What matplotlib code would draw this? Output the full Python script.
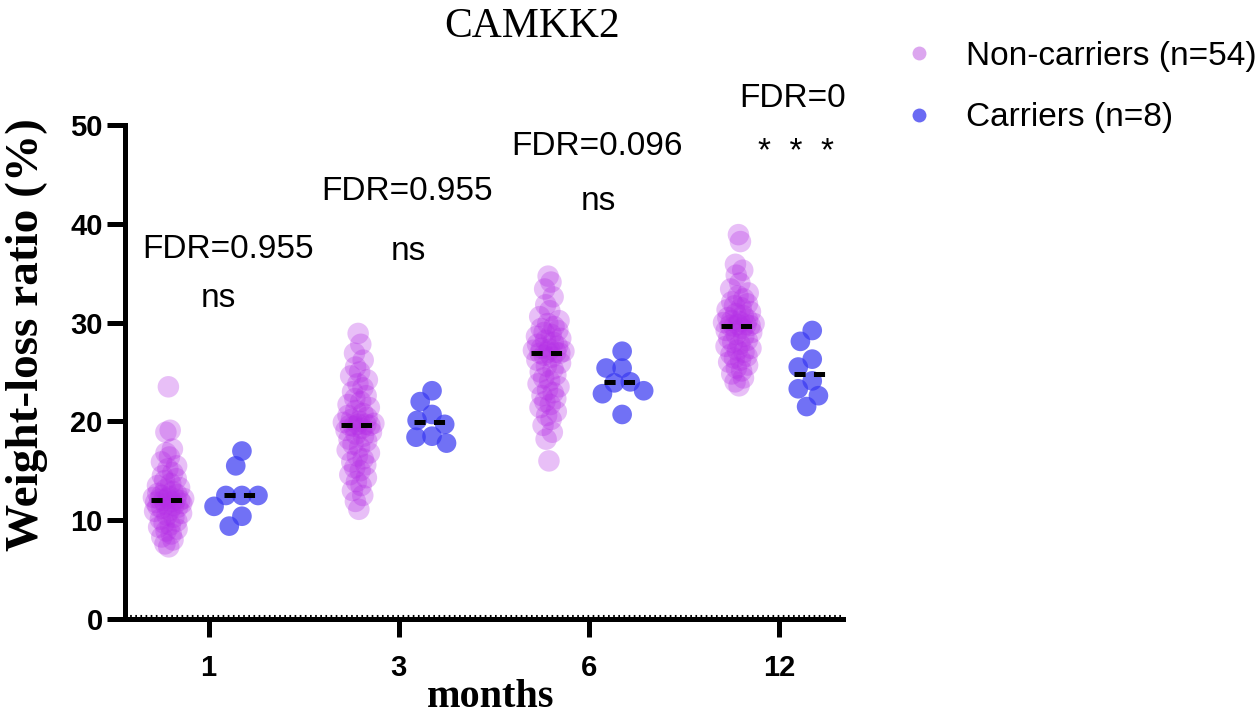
import numpy as np
import matplotlib.pyplot as plt
from matplotlib.lines import Line2D

plt.rcParams['font.family'] = ['Liberation Sans', 'DejaVu Sans']
plt.rcParams['lines.scale_dashes'] = False

months = ["1", "3", "6", "12"]

# weight-loss ratio (%) of non-carriers (n=54) per month
non_carriers_1m = [23.5, 19.1, 18.9, 17.2, 16.8, 16.4, 15.9, 15.5, 15.2, 14.8, 14.5, 14.2, 14.0, 13.7,
                   13.5, 13.3, 13.1, 12.9, 12.7, 12.6, 12.5, 12.4, 12.3, 12.2, 12.2, 12.1, 12.1,
                   12.0, 12.0, 11.9, 11.8, 11.7, 11.6, 11.5, 11.4, 11.3, 11.2, 11.0, 10.9, 10.7,
                   10.5, 10.3, 10.1, 9.9, 9.7, 9.5, 9.3, 9.1, 8.9, 8.6, 8.3, 8.0, 7.6, 7.3]
non_carriers_3m = [28.9, 27.8, 26.9, 26.2, 25.5, 25.0, 24.6, 24.2, 23.8, 23.4, 23.0, 22.6, 22.3, 22.0,
                   21.7, 21.4, 21.1, 20.8, 20.6, 20.4, 20.2, 20.0, 19.9, 19.8, 19.7, 19.7, 19.6,
                   19.6, 19.5, 19.3, 19.1, 18.9, 18.7, 18.5, 18.2, 18.0, 17.7, 17.4, 17.1, 16.8,
                   16.5, 16.2, 15.9, 15.6, 15.3, 15.0, 14.6, 14.3, 13.9, 13.5, 13.0, 12.5, 11.9, 11.1]
non_carriers_6m = [34.7, 34.1, 33.4, 32.6, 31.8, 31.2, 30.6, 30.2, 29.9, 29.6, 29.4, 29.2, 29.0, 28.8,
                   28.6, 28.4, 28.2, 28.0, 27.8, 27.6, 27.4, 27.3, 27.2, 27.1, 27.0, 27.0, 26.9,
                   26.9, 26.7, 26.5, 26.2, 25.9, 25.6, 25.3, 25.0, 24.7, 24.4, 24.1, 23.8, 23.5,
                   23.2, 22.9, 22.6, 22.3, 22.0, 21.7, 21.4, 21.0, 20.6, 20.2, 19.6, 18.9, 18.2, 16.0]
non_carriers_12m = [38.9, 38.2, 35.9, 35.3, 34.8, 34.0, 33.4, 33.0, 32.7, 32.4, 32.1, 31.9, 31.7, 31.5,
                    31.3, 31.1, 30.9, 30.7, 30.5, 30.3, 30.2, 30.1, 30.0, 29.9, 29.8, 29.8, 29.7,
                    29.7, 29.6, 29.4, 29.2, 29.0, 28.8, 28.6, 28.4, 28.2, 28.0, 27.8, 27.6, 27.4,
                    27.2, 27.0, 26.8, 26.6, 26.4, 26.2, 26.0, 25.7, 25.4, 25.1, 24.8, 24.4, 24.0, 23.6]

# carriers (n=8)
carriers_1m = [17.0, 15.5, 12.5, 12.5, 12.5, 11.4, 10.4, 9.4]
carriers_3m = [23.1, 22.0, 20.7, 20.1, 19.7, 18.5, 18.4, 17.8]
carriers_6m = [27.1, 25.4, 25.4, 24.0, 23.9, 23.1, 22.8, 20.7]
carriers_12m = [29.2, 28.1, 26.3, 25.5, 24.1, 23.3, 22.6, 21.5]

fdr_labels = ["FDR=0.955", "FDR=0.955", "FDR=0.096", "FDR=0"]
sig_labels = ["ns", "ns", "ns", "*  *  *"]

# layout
fdr_y = [37.4, 43.3, 47.8, 52.7]
sig_y = [32.4, 37.2, 42.3, 47.2]
fdr_dx = [0.1, 0.045, 0.045, 0.07]
sig_dx = [0.05, 0.05, 0.05, 0.09]
NON_OFF, CAR_OFF = -0.21, 0.175
PX_X, PX_Y = 189.5, 9.84   # pixels per data unit
NON_COLOR = '#b52ee6'
CAR_COLOR = '#3a3af2'


def vdc(k):
    # van der Corput sequence, base 2
    v, denom = 0.0, 1.0
    while k:
        denom *= 2
        k, r = divmod(k, 2)
        v += r / denom
    return v


def quasi_offsets(values, width_px, bw=1.3):
    # spread points sideways by local density (quasirandom style, deterministic)
    vals = np.asarray(values, dtype=float)
    dens = np.array([np.exp(-0.5 * ((vals - v) / bw) ** 2).sum() for v in vals])
    dens = (dens / dens.max()) ** 0.6
    offs = np.zeros(len(vals))
    for k, i in enumerate(np.argsort(vals)):
        offs[i] = (2 * vdc(k + 1) - 1) * width_px * dens[i]
    return offs / PX_X


def swarm(values, min_dist):
    # simple beeswarm in pixel space, returns x offsets in data units
    vals = np.asarray(values, dtype=float)
    order = np.argsort(-vals)
    placed = []
    offs = np.zeros(len(vals))
    for i in order:
        y = vals[i] * PX_Y
        cands = [0.0]
        for px, py in placed:
            dy = abs(py - y)
            if dy < min_dist:
                dx = np.sqrt(min_dist ** 2 - dy ** 2)
                cands += [px + dx, px - dx]
        ok = [c for c in cands
              if all((c - px) ** 2 + (y - py) ** 2 >= min_dist ** 2 - 1e-6 for px, py in placed)]
        best = min(ok, key=lambda c: (abs(c), c))
        placed.append((best, y))
        offs[i] = best / PX_X
    return offs


fig = plt.figure(figsize=(12.59, 7.15), dpi=100)
ax = fig.add_axes([0.0993, 0.1343, 0.5700, 0.6909])

non_groups = [non_carriers_1m, non_carriers_3m, non_carriers_6m, non_carriers_12m]
car_groups = [carriers_1m, carriers_3m, carriers_6m, carriers_12m]

for i, (nc, c) in enumerate(zip(non_groups, car_groups)):
    xo = quasi_offsets(nc, 16)
    ax.scatter(i + NON_OFF + xo, nc, s=240, color=NON_COLOR, alpha=0.3,
               edgecolors='none', zorder=3, clip_on=False)
    xo = swarm(c, 16)
    ax.scatter(i + CAR_OFF + xo, c, s=200, color=CAR_COLOR, alpha=0.72,
               edgecolors='none', zorder=3, clip_on=False)
    for off, vals in ((NON_OFF, nc), (CAR_OFF, c)):
        med = np.median(vals)
        ax.plot([i + off - 0.095, i + off + 0.095], [med, med], color='black', lw=3.6,
                dashes=(8, 6), solid_capstyle='butt', dash_capstyle='butt', zorder=4)
    ax.text(i + fdr_dx[i], fdr_y[i], fdr_labels[i], fontsize=24, ha='center', va='center')
    ax.text(i + sig_dx[i], sig_y[i], sig_labels[i], fontsize=24, ha='center', va='center')

ax.axhline(0.35, color='black', lw=1.5, ls=(0, (1.2, 2.5)), zorder=2)

ax.set_xlim(-0.44, 3.335)
ax.set_ylim(0, 50)
ax.set_xticks(range(len(months)))
ax.set_xticklabels(months)
ax.set_yticks(range(0, 51, 10))
for side in ('top', 'right'):
    ax.spines[side].set_visible(False)
for side in ('left', 'bottom'):
    ax.spines[side].set_linewidth(3.6)
ax.tick_params(axis='both', length=13, width=3.6, labelsize=21)
ax.tick_params(axis='x', pad=12)
ax.tick_params(axis='y', pad=3)
for lab in ax.get_xticklabels() + ax.get_yticklabels():
    lab.set_fontweight('bold')

ax.set_xlabel('months', family='Liberation Serif', fontweight='bold', fontsize=29)
ax.xaxis.set_label_coords(0.509, -0.122)
ax.set_ylabel('Weight-loss ratio (%)', family='Liberation Serif', fontweight='bold',
              fontsize=34, va='center')
ax.yaxis.set_label_coords(-0.137, 0.575)
fig.text(0.423, 0.962, 'CAMKK2', family='Liberation Serif', fontsize=30, ha='center', va='center')

handles = [Line2D([], [], ls='none', marker='o', ms=10, color='#dca6ef', mec='none'),
           Line2D([], [], ls='none', marker='o', ms=10, color='#6a6af3', mec='none')]
fig.legend(handles, ['Non-carriers (n=54)', 'Carriers (n=8)'], loc='upper left',
           bbox_to_anchor=(0.706, 0.962), frameon=False, fontsize=24, handletextpad=0.9,
           labelspacing=0.92, handlelength=1.0, borderaxespad=0)

fig.savefig('out.png', dpi=100)
